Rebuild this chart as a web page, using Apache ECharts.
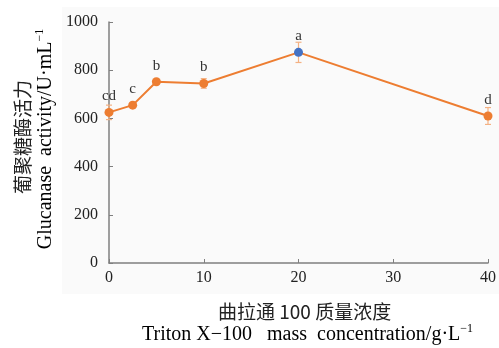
<!DOCTYPE html>
<html>
<head>
<meta charset="utf-8">
<script src="https://cdn.jsdelivr.net/npm/echarts@6/dist/echarts.min.js"></script>
<style>
html,body{margin:0;padding:0;background:#fff;}
#chart{width:499px;height:348px;}
</style>
</head>
<body>
<div id="chart"></div>
<script>
// Triton X-100 concentration (g/L) vs glucanase activity
const concentrations = [0, 2.5, 5, 10, 20, 40];
const activity = [625, 655, 752, 745, 874, 610];
const errors = [30, 10, 8, 20, 42, 35];
const letters = ['cd', 'c', 'b', 'b', 'a', 'd'];
const xTicks = [0, 10, 20, 30, 40];
const yTicks = [0, 200, 400, 600, 800, 1000];

const serif = '"Liberation Serif","Times New Roman",serif';
const cjk = '"Noto Sans CJK SC",sans-serif';
const lineColor = '#ed7d31';
const peakColor = '#4472c4';
const errColor = '#f4b183';
const axisColor = '#7f7f7f';
const textColor = '#222';

const chart = echarts.init(document.getElementById('chart'));

const points = concentrations.map((x, i) => ({
  value: [x, activity[i]],
  itemStyle: { color: i === 4 ? peakColor : lineColor },
  label: { formatter: letters[i] }
}));

const supRich = {
  a: { fontFamily: serif, fontSize: 20, lineHeight: 24, color: textColor },
  s: { fontFamily: serif, fontSize: 12, lineHeight: 12, color: textColor, verticalAlign: 'top' }
};

chart.setOption({
  animation: false,
  backgroundColor: '#fff',
  grid: { left: 109, right: 8, top: 22, bottom: 85 },
  graphic: [
    { type: 'rect', z: -10, silent: true,
      shape: { x: 62, y: 7, width: 437, height: 287 },
      style: { fill: '#fafafa' } },
    { type: 'text', x: 218, y: 312,
      style: { text: '曲拉通 100 质量浓度', font: '19px ' + cjk, fill: textColor,
               align: 'left', verticalAlign: 'middle' } },
    { type: 'text', x: 142, y: 335,
      style: { text: '{a|Triton X\u2212100   mass  concentration/g\u00b7L}{s|\u22121}', rich: supRich,
               align: 'left', verticalAlign: 'middle' } },
    { type: 'text', rotation: Math.PI / 2, x: 23, y: 137,
      style: { text: '葡聚糖酶活力', font: '19px ' + cjk, fill: textColor,
               align: 'center', verticalAlign: 'middle' } },
    { type: 'text', rotation: Math.PI / 2, x: 46, y: 139,
      style: { text: '{a|Glucanase  activity/U\u00b7mL}{s|\u22121}', rich: supRich,
               align: 'center', verticalAlign: 'middle' } }
  ],
  xAxis: {
    type: 'value', min: 0, max: 40, interval: 10,
    splitLine: { show: false },
    axisLine: { lineStyle: { color: axisColor, width: 1.5 } },
    axisTick: { inside: true, length: 4, lineStyle: { color: axisColor } },
    axisLabel: {
      color: textColor, fontFamily: serif, fontSize: 16, margin: 7,
      formatter: v => (xTicks.indexOf(v) >= 0 ? String(v) : '')
    }
  },
  yAxis: {
    type: 'value', min: 0, max: 1000, interval: 200,
    splitLine: { show: false },
    axisLine: { show: true, lineStyle: { color: axisColor, width: 1.5 } },
    axisTick: { show: true, inside: true, length: 4, lineStyle: { color: axisColor } },
    axisLabel: {
      color: textColor, fontFamily: serif, fontSize: 16, margin: 11,
      formatter: v => (yTicks.indexOf(v) >= 0 ? String(v) : '')
    }
  },
  series: [
    {
      type: 'custom',
      z: 1,
      renderItem: (params, api) => {
        const x = api.value(0), y = api.value(1), e = api.value(2);
        const top = api.coord([x, y + e]);
        const bot = api.coord([x, y - e]);
        const w = 3;
        const st = { stroke: errColor, lineWidth: 1.2 };
        return { type: 'group', children: [
          { type: 'line', shape: { x1: top[0], y1: top[1], x2: bot[0], y2: bot[1] }, style: st },
          { type: 'line', shape: { x1: top[0] - w, y1: top[1], x2: top[0] + w, y2: top[1] }, style: st },
          { type: 'line', shape: { x1: bot[0] - w, y1: bot[1], x2: bot[0] + w, y2: bot[1] }, style: st }
        ]};
      },
      data: concentrations.map((x, i) => [x, activity[i], errors[i]])
    },
    {
      type: 'line',
      z: 3,
      data: points,
      symbol: 'circle',
      symbolSize: 9,
      lineStyle: { color: lineColor, width: 2 },
      itemStyle: { color: lineColor },
      label: {
        show: true, position: 'top', distance: 4,
        color: '#333', fontFamily: serif, fontSize: 15
      }
    }
  ]
});
</script>
</body>
</html>
